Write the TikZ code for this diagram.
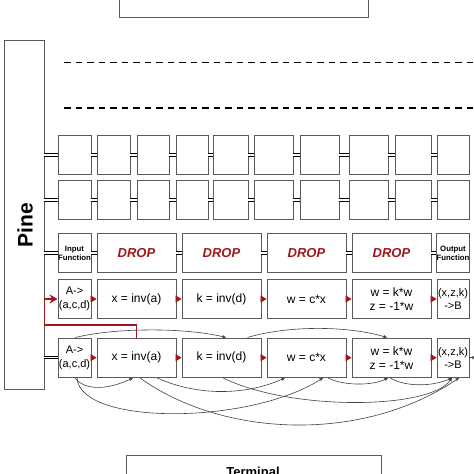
\documentclass[tikz,border=0pt]{standalone}
\usepackage{fontspec}
\setmainfont{Liberation Sans}
\usetikzlibrary{positioning,arrows.meta}
\definecolor{dropred}{RGB}{160,22,26}
\definecolor{boxgray}{RGB}{90,90,90}
\newcommand{\cellfont}{\fontsize{12}{14}\selectfont}
\newcommand{\smallcell}{\fontsize{11}{13.3}\selectfont}
\newcommand{\fnfont}{\bfseries\fontsize{7.8}{9}\selectfont}
\begin{document}
\begin{tikzpicture}[x=1pt,y=-1pt,
		cell/.style={draw=boxgray,line width=0.9pt,inner sep=0pt,align=center,font=\cellfont},
		dropbox/.style={cell,minimum width=79,minimum height=39.4,text=dropred,font=\bfseries\itshape\fontsize{13}{13}\selectfont},
		link/.style={double,double distance=1.4pt,line width=0.9pt},
		redtip/.style={draw=dropred,line width=0.8pt,-{Triangle[length=6pt,width=7pt]}},
		redline/.style={draw=dropred,line width=1.8pt,-{Stealth[length=8pt,width=9pt]}},
		dep/.style={draw=black!75,line width=0.6pt,-{Stealth[length=4pt,width=3.5pt]}}]
		\useasboundingbox (0,0) rectangle (474,474);
		\clip (0,0) rectangle (474,474);
		\node[draw=boxgray,line width=0.9pt,minimum width=249,minimum height=40] (head) at (243.8,-2.3) {};
		\node[draw=boxgray,line width=0.9pt,minimum width=255,minimum height=40] (term) at (254.2,475.7) {};
		\node[anchor=base,font=\bfseries\fontsize{13}{13}\selectfont] (termlabel) at (253,476) {Terminal};
		\node[draw=boxgray,line width=0.9pt,minimum width=40,minimum height=349] (pine) at (24,214.5) {};
		\node[rotate=90,font=\bfseries\fontsize{21}{21}\selectfont] (pinelabel) at (25,225) {Pine};
		\draw[line width=1.8pt,dash pattern=on 6.5pt off 5pt] (64,62.5) -- (480,62.5);
		\draw[line width=1.8pt,dash pattern=on 6.5pt off 5pt] (64,108.3) -- (480,108.3);
		\foreach \row/\cy in {1/155,2/200}{
			\foreach \cx/\w [count=\i] in {74.5/33,113.5/33,153/32,192/32,230.5/35,273.5/39,319.5/39,368.5/39,413/36,453/32}
				\node[cell,minimum width=\w,minimum height=38.6] (b\row-\i) at (\cx,\cy) {};
			\draw[link] (pine.east |- b\row-1.west) -- (b\row-1.west);
			\foreach \i [count=\j from 2] in {1,...,9}
				\draw[link] (b\row-\i.east) -- (b\row-\j.west);
		}
		\node[cell,minimum width=33,minimum height=39.4,font=\fnfont] (infn) at (74.5,253) {Input\\Function};
		\foreach \cx [count=\i] in {136.5,221.5,306.5,391.5}
			\node[dropbox] (drop\i) at (\cx,253) {DROP};
		\node[cell,minimum width=32,minimum height=39.4,font=\fnfont] (outfn) at (453,253) {Output\\Function};
		\draw[link] (pine.east |- infn.west) -- (infn.west);
		\draw[link] (infn.east) -- (drop1.west);
		\foreach \i [count=\j from 2] in {1,2,3}
			\draw[link] (drop\i.east) -- (drop\j.west);
		\draw[link] (drop4.east) -- (outfn.west);
		\foreach \row/\cy in {4/299,5/357.7}{
			\node[cell,minimum width=33,minimum height=39.5,font=\smallcell] (a\row) at (74.5,\cy) {A->\\(a,c,d)};
			\node[cell,minimum width=79,minimum height=39.5] (x\row) at (136.5,\cy) {x = inv(a)};
			\node[cell,minimum width=79,minimum height=39.5] (k\row) at (221.5,\cy) {k = inv(d)};
			\node[cell,minimum width=79,minimum height=39.5] (w\row) at (306.5,\cy) {w = c*x};
			\node[cell,minimum width=79,minimum height=39.5] (m\row) at (391.5,\cy) {w = k*w\\z = -1*w};
			\node[cell,minimum width=32,minimum height=39.5,font=\smallcell] (o\row) at (453,\cy) {(x,z,k)\\->B};
			\draw[redtip] (a\row.east) -- (x\row.west);
			\draw[redtip] (x\row.east) -- (k\row.west);
			\draw[redtip] (k\row.east) -- (w\row.west);
			\draw[redtip] (w\row.east) -- (m\row.west);
			\draw[redtip] (m\row.east) -- (o\row.west);
		}
		\draw[link] (pine.east |- a5.west) -- (a5.west);
		\coordinate (redbend) at (44.5,325);
		\draw[redline] (x5.north) |- (redbend) |- (a4.west);
		\coordinate (exit) at (476,357.7);
		\draw[dep] (o5.east) -- (exit);
		\draw[dep] ([xshift=1]a5.north) .. controls +(40,-10) and +(-40,-10) .. ([xshift=4.5]k5.north);
		\draw[dep] ([xshift=26]k5.north) .. controls +(40,-12) and +(-40,-12) .. ([xshift=-4.5]m5.north);
		\draw[dep] ([xshift=0.5]a5.south) .. controls +(10,13) and +(-25,12) .. ([xshift=-3.5]x5.south);
		\draw[dep] ([xshift=2.5]a5.south) .. controls +(3,48) and +(-73,47) .. ([xshift=16.5]w5.south);
		\draw[dep] ([xshift=3.5]x5.south) .. controls +(80,58) and +(-99,67) .. ([xshift=6]o5.south);
		\draw[dep] ([xshift=20.5]x5.south) .. controls +(40,18) and +(-40,18) .. ([xshift=-21.5]w5.south);
		\draw[dep] ([xshift=1.5]k5.south) .. controls +(67,33) and +(-22,32) .. ([xshift=-1]o5.south);
		\draw[dep] ([xshift=21.5]w5.south) .. controls +(15,8) and +(-15,8) .. ([xshift=-3.5]m5.south);
		\draw[dep] ([xshift=-1.5]m5.south) .. controls +(15,9) and +(-20,9) .. ([xshift=-1]o5.south);
\end{tikzpicture}
\end{document}
